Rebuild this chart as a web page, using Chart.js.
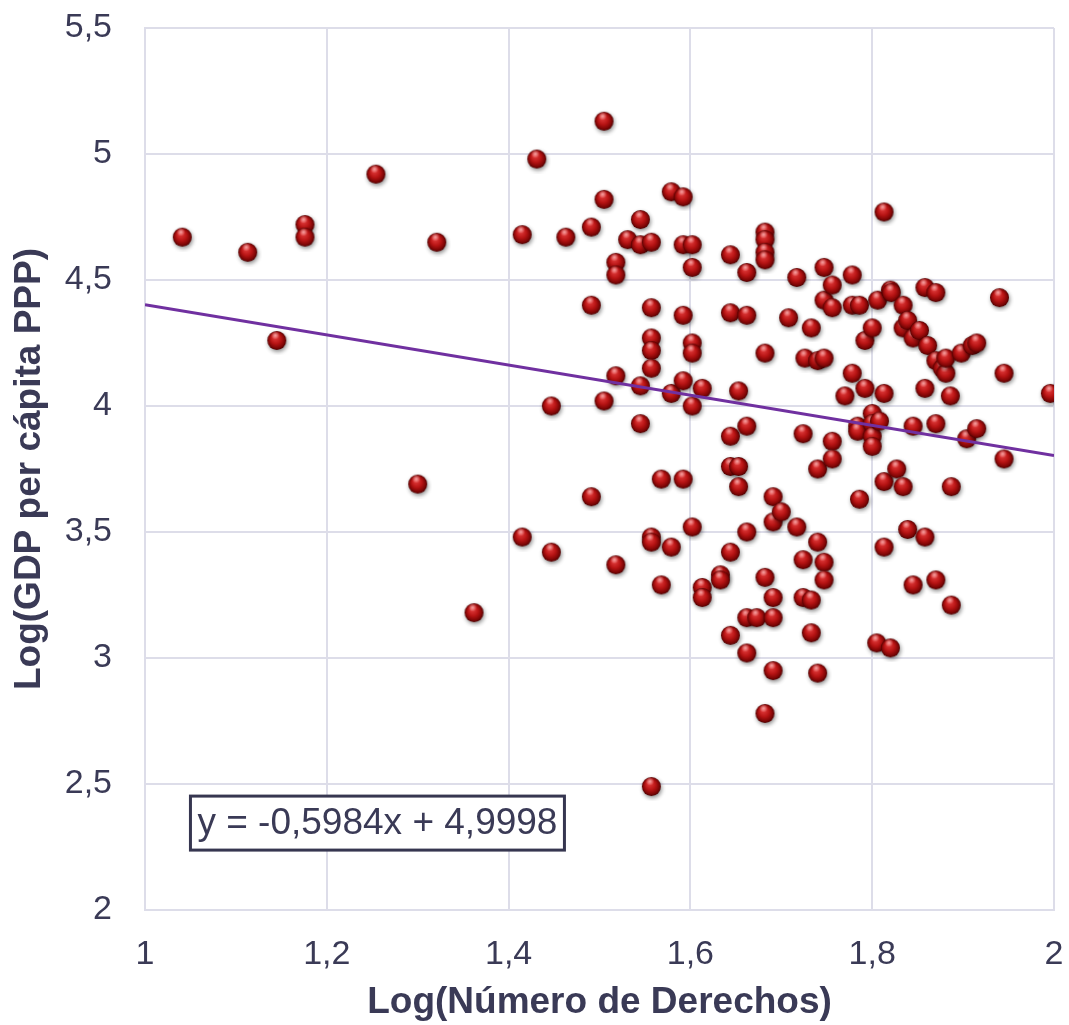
<!DOCTYPE html>
<html>
<head>
<meta charset="utf-8">
<script src="https://cdn.jsdelivr.net/npm/chart.js@4/dist/chart.umd.min.js"></script>
<style>
  html, body { margin: 0; padding: 0; background: #fff; }
  #wrap { width: 1069px; height: 1025px; }
</style>
</head>
<body>
<div id="wrap"><canvas id="myChart" width="1069" height="1025"></canvas></div>
<script>
// Log(Número de Derechos)
const xValues = [
  1.041, 1.113, 1.145, 1.176, 1.176, 1.254, 1.321, 1.300, 1.362, 1.415,
  1.415, 1.431, 1.447, 1.447, 1.463, 1.491, 1.491, 1.491, 1.505, 1.505,
  1.505, 1.518, 1.518, 1.518, 1.518, 1.531, 1.545, 1.545, 1.545, 1.545,
  1.557, 1.557, 1.557, 1.557, 1.557, 1.557, 1.557, 1.557, 1.568, 1.568,
  1.579, 1.579, 1.579, 1.592, 1.592, 1.592, 1.592, 1.592, 1.602, 1.602,
  1.602, 1.602, 1.602, 1.602, 1.613, 1.613, 1.613, 1.633, 1.633, 1.644,
  1.644, 1.644, 1.644, 1.644, 1.644, 1.653, 1.653, 1.653, 1.662, 1.662,
  1.662, 1.662, 1.662, 1.662, 1.673, 1.682, 1.682, 1.682, 1.682, 1.682,
  1.682, 1.682, 1.691, 1.691, 1.691, 1.691, 1.691, 1.700, 1.708, 1.717,
  1.717, 1.724, 1.724, 1.724, 1.726, 1.733, 1.733, 1.733, 1.740, 1.740,
  1.740, 1.740, 1.747, 1.747, 1.747, 1.747, 1.747, 1.756, 1.756, 1.756,
  1.756, 1.770, 1.778, 1.778, 1.778, 1.784, 1.784, 1.786, 1.786, 1.792,
  1.792, 1.800, 1.800, 1.800, 1.800, 1.800, 1.805, 1.806, 1.808, 1.813,
  1.813, 1.813, 1.813, 1.820, 1.821, 1.820, 1.827, 1.834, 1.834, 1.834,
  1.839, 1.839, 1.845, 1.845, 1.845, 1.852, 1.858, 1.858, 1.858, 1.861,
  1.870, 1.870, 1.870, 1.870, 1.877, 1.881, 1.881, 1.886, 1.887, 1.887,
  1.898, 1.904, 1.910, 1.915, 1.915, 1.940, 1.945, 1.945, 1.996
];
// Log(GDP per cápita PPP)
const yValues = [
  4.67, 4.61, 4.26, 4.72, 4.67, 4.92, 4.65, 3.69, 3.18, 4.68,
  3.48, 4.98, 4.00, 3.42, 4.67, 4.71, 4.40, 3.64, 5.13, 4.82,
  4.02, 4.57, 4.52, 4.12, 3.37, 4.66, 4.74, 4.64, 4.08, 3.93,
  4.65, 4.39, 4.27, 4.22, 4.15, 3.48, 3.46, 2.49, 3.71, 3.29,
  4.85, 4.05, 3.44, 4.83, 4.64, 4.36, 4.10, 3.71, 4.64, 4.55,
  4.25, 4.21, 4.00, 3.52, 4.07, 3.28, 3.24, 3.33, 3.31, 4.60,
  4.37, 3.88, 3.76, 3.42, 3.09, 4.06, 3.76, 3.68, 4.53, 4.36,
  3.92, 3.50, 3.16, 3.02, 3.16, 4.69, 4.66, 4.61, 4.58, 4.21,
  3.32, 2.78, 3.64, 3.54, 3.24, 3.16, 2.95, 3.58, 4.35, 4.51,
  3.52, 3.89, 3.39, 3.24, 4.19, 4.31, 3.23, 3.10, 4.18, 3.75,
  3.46, 2.94, 4.55, 4.42, 4.19, 3.38, 3.31, 4.48, 4.39, 3.86,
  3.79, 4.04, 4.52, 4.40, 4.13, 3.92, 3.90, 4.40, 3.63, 4.26,
  4.07, 4.31, 3.97, 3.93, 3.88, 3.84, 3.06, 4.42, 3.94, 4.77,
  4.05, 3.70, 3.44, 4.46, 4.45, 3.04, 3.75, 4.40, 4.31, 3.68,
  4.34, 3.51, 4.27, 3.92, 3.29, 4.30, 4.47, 4.07, 3.48, 4.24,
  4.45, 4.18, 3.93, 3.31, 4.15, 4.13, 4.19, 4.04, 3.68, 3.21,
  4.21, 3.87, 4.24, 4.25, 3.91, 4.43, 4.13, 3.79, 4.05
];
// Ejes
const xTicks = [1, 1.2, 1.4, 1.6, 1.8, 2];
const yTicks = [2, 2.5, 3, 3.5, 4, 4.5, 5, 5.5];
// Tendencia lineal (ecuación mostrada)
const slope = -0.5984;
const intercept = 4.9998;
const equationText = 'y = -0,5984x + 4,9998';

const textColor = '#3a3a56';
const gridColor = '#dddde9';
const fontFamily = '"Liberation Sans", Arial, sans-serif';

function fmt(v) {
  return String(Math.round(v * 10) / 10).replace('.', ',');
}

// Esfera roja con sombra para los puntos
function makeBall(d) {
  const pad = 5;
  const c = document.createElement('canvas');
  c.width = c.height = d + pad * 2;
  const g = c.getContext('2d');
  const r = d / 2, cx = pad + r, cy = pad + r;
  g.save();
  g.shadowColor = 'rgba(0,0,0,0.45)';
  g.shadowBlur = 4;
  g.shadowOffsetX = 1;
  g.shadowOffsetY = 2;
  const grad = g.createRadialGradient(cx - r * 0.2, cy - r * 0.4, r * 0.1, cx, cy, r);
  grad.addColorStop(0, '#e23c3c');
  grad.addColorStop(0.5, '#b71414');
  grad.addColorStop(0.85, '#7c0505');
  grad.addColorStop(1, '#4a0000');
  g.fillStyle = grad;
  g.beginPath();
  g.arc(cx, cy, r, 0, Math.PI * 2);
  g.fill();
  g.restore();
  // brillo superior
  const hl = g.createRadialGradient(cx - r * 0.15, cy - r * 0.55, 0, cx - r * 0.15, cy - r * 0.55, r * 0.45);
  hl.addColorStop(0, 'rgba(255,200,200,0.75)');
  hl.addColorStop(1, 'rgba(255,200,200,0)');
  g.fillStyle = hl;
  g.beginPath();
  g.arc(cx, cy, r, 0, Math.PI * 2);
  g.fill();
  return c;
}

const ball = makeBall(19);
const points = xValues.map((x, i) => ({ x: x, y: yValues[i] }));
const trend = [1, 2].map(x => ({ x: x, y: slope * x + intercept }));

// Cuadro con la ecuación
const equationBox = {
  id: 'equationBox',
  afterDatasetsDraw(chart) {
    const ctx = chart.ctx;
    const left = chart.scales.x.getPixelForValue(1.05);
    const top = chart.scales.y.getPixelForValue(2.452);
    ctx.save();
    ctx.font = '37px ' + fontFamily;
    const w = ctx.measureText(equationText).width;
    ctx.fillStyle = '#ffffff';
    ctx.fillRect(left, top, w + 14, 54);
    ctx.strokeStyle = '#363650';
    ctx.lineWidth = 3;
    ctx.strokeRect(left, top, w + 14, 54);
    ctx.fillStyle = textColor;
    ctx.textBaseline = 'middle';
    ctx.fillText(equationText, left + 7, top + 28);
    ctx.restore();
  }
};

const ctx = document.getElementById('myChart').getContext('2d');
new Chart(ctx, {
  type: 'scatter',
  data: {
    datasets: [{
      label: 'Países',
      data: points,
      pointStyle: ball,
      pointRadius: 10,
      pointHoverRadius: 10,
      order: 2
    }, {
      label: 'Tendencia',
      type: 'line',
      data: trend,
      borderColor: '#7030a0',
      borderWidth: 3,
      pointRadius: 0,
      fill: false,
      order: 1
    }]
  },
  options: {
    responsive: false,
    animation: false,
    layout: { padding: { top: 28, right: 15, left: 0, bottom: 0 } },
    plugins: {
      legend: { display: false },
      tooltip: { enabled: false }
    },
    scales: {
      x: {
        type: 'linear',
        min: 1,
        max: 2,
        afterBuildTicks: s => { s.ticks = xTicks.map(v => ({ value: v })); },
        afterFit: s => { s.height = 115; s.paddingLeft = 0; s.paddingRight = 0; },
        grid: { color: gridColor, lineWidth: 2, drawTicks: false },
        border: { color: gridColor, width: 2 },
        ticks: {
          color: textColor,
          padding: 24,
          maxRotation: 0,
          font: { family: fontFamily, size: 34 },
          callback: v => fmt(v)
        },
        title: {
          display: true,
          text: 'Log(Número de Derechos)',
          color: textColor,
          padding: { top: 0, bottom: 0 },
          font: { family: fontFamily, size: 37, weight: 'bold' }
        }
      },
      y: {
        type: 'linear',
        min: 2,
        max: 5.5,
        afterBuildTicks: s => { s.ticks = yTicks.map(v => ({ value: v })); },
        afterFit: s => { s.width = 145; s.paddingTop = 0; s.paddingBottom = 0; },
        grid: { color: gridColor, lineWidth: 2, drawTicks: false },
        border: { color: gridColor, width: 2 },
        ticks: {
          color: textColor,
          padding: 33,
          font: { family: fontFamily, size: 34 },
          callback: v => fmt(v)
        },
        title: {
          display: true,
          text: 'Log(GDP per cápita PPP)',
          color: textColor,
          padding: { top: 8, bottom: 0 },
          font: { family: fontFamily, size: 37, weight: 'bold' }
        }
      }
    }
  },
  plugins: [equationBox]
});
</script>
</body>
</html>
